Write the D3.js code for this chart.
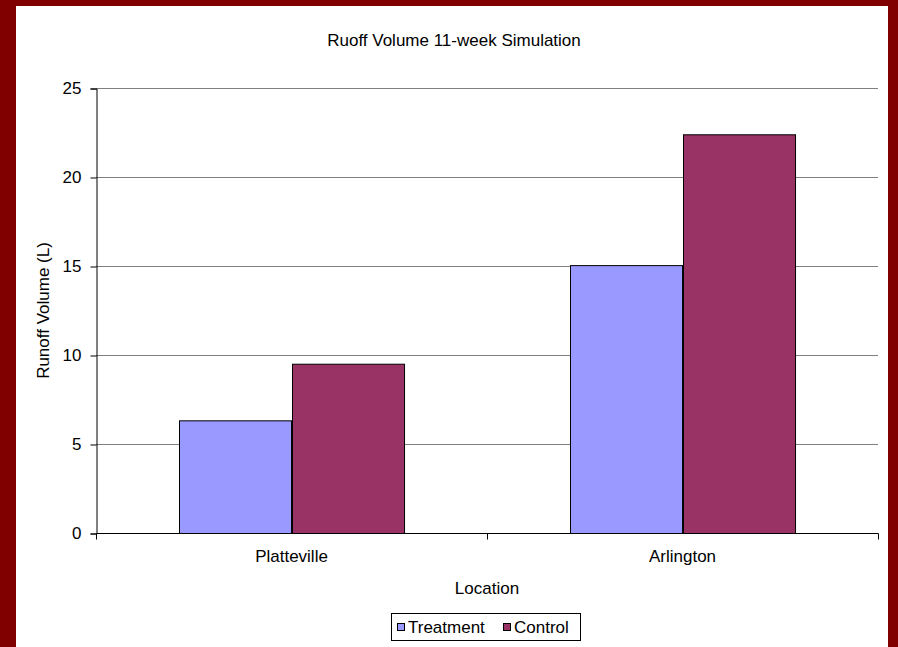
<!DOCTYPE html>
<html>
<head>
<meta charset="utf-8">
<script src="https://cdn.jsdelivr.net/npm/d3@7"></script>
<style>
  html, body { margin: 0; padding: 0; background: #800000; }
  svg { display: block; }
  text { font-family: "Liberation Sans", Arial, sans-serif; fill: #000; }
</style>
</head>
<body>
<svg id="chart" width="898" height="647"></svg>
<script>
// Runoff volume by location, treatment vs control
const locations = ["Platteville", "Arlington"];
const seriesNames = ["Treatment", "Control"];
const treatment = [6.33, 15.05];
const control = [9.51, 22.4];
const yTicks = [0, 5, 10, 15, 20, 25];
const colors = ["#9999FF", "#993366"];

const svg = d3.select("#chart");
const H = 647;
const FONT = 17;

// white chart area inside the maroon frame
svg.append("rect").attr("x", 16).attr("y", 6).attr("width", 872).attr("height", H - 6).attr("fill", "#fff");

const plot = { left: 96, right: 878, top: 88, bottom: 533 };

const x0 = d3.scaleBand().domain(locations).range([plot.left, plot.right]).paddingInner(0).paddingOuter(0);
const x1 = d3.scaleBand().domain(seriesNames).range([0, x0.bandwidth()]).paddingInner(0).paddingOuter(0.745);
const y = d3.scaleLinear().domain([0, 25]).range([plot.bottom, plot.top]);

// gridlines
svg.append("g").selectAll("line").data(yTicks.filter(d => d > 0)).join("line")
  .attr("x1", plot.left).attr("x2", plot.right)
  .attr("y1", d => y(d) + 0.5).attr("y2", d => y(d) + 0.5)
  .attr("stroke", "#808080").attr("stroke-width", 1);

// bars
const rows = locations.map((loc, i) => ({ loc, values: [treatment[i], control[i]] }));
const groups = svg.append("g").selectAll("g").data(rows).join("g")
  .attr("transform", d => `translate(${x0(d.loc)},0)`);
groups.selectAll("rect").data(d => d.values.map((v, j) => ({ name: seriesNames[j], v, j }))).join("rect")
  .attr("x", d => Math.round(x1(d.name)) + 0.5)
  .attr("y", d => y(d.v) + 0.5)
  .attr("width", x1.bandwidth())
  .attr("height", d => y(0) - y(d.v))
  .attr("fill", d => colors[d.j])
  .attr("stroke", "#000").attr("stroke-width", 1);

// y axis
const yAxis = d3.axisLeft(y).tickValues(yTicks).tickSize(6).tickPadding(9).tickFormat(d3.format("d"));
const gy = svg.append("g").attr("transform", `translate(${plot.left + 0.5},0.5)`).call(yAxis);
gy.select(".domain").attr("stroke", "#000");
gy.selectAll(".tick line").attr("stroke", "#000");
gy.selectAll("text").attr("font-size", FONT).attr("font-family", "Liberation Sans, Arial, sans-serif");

// x axis
const xAxis = d3.axisBottom(x0).tickSize(0).tickPadding(16);
const gx = svg.append("g").attr("transform", `translate(0,${plot.bottom + 0.5})`).call(xAxis);
gx.select(".domain").attr("d", `M${plot.left + 0.5},0H${plot.right + 0.5}`).attr("stroke", "#000");
gx.selectAll("text").attr("font-size", FONT).attr("font-family", "Liberation Sans, Arial, sans-serif");
// category separators
const sepX = [plot.left, plot.left + x0.bandwidth(), plot.right];
gx.selectAll(".sep").data(sepX).join("line").attr("class", "sep")
  .attr("x1", d => Math.round(d) + 0.5).attr("x2", d => Math.round(d) + 0.5)
  .attr("y1", 0).attr("y2", 6).attr("stroke", "#000");

// title and axis titles
svg.append("text").attr("x", 454).attr("y", 46).attr("text-anchor", "middle")
  .attr("font-size", FONT).text("Ruoff Volume 11-week Simulation");
svg.append("text").attr("x", (plot.left + plot.right) / 2).attr("y", 594).attr("text-anchor", "middle")
  .attr("font-size", FONT).text("Location");
svg.append("text").attr("transform", `translate(49,${(plot.top + plot.bottom) / 2}) rotate(-90)`)
  .attr("text-anchor", "middle").attr("font-size", FONT).text("Runoff Volume (L)");

// legend
const lg = svg.append("g");
lg.append("rect").attr("x", 391.5).attr("y", 613.5).attr("width", 189).attr("height", 27)
  .attr("fill", "#fff").attr("stroke", "#000");
const lx = [397, 503];
seriesNames.forEach((n, i) => {
  lg.append("rect").attr("x", lx[i] + 0.5).attr("y", 623.5).attr("width", 7).attr("height", 7)
    .attr("fill", colors[i]).attr("stroke", "#000");
  lg.append("text").attr("x", lx[i] + 11).attr("y", 633).attr("font-size", FONT).text(n);
});
</script>
</body>
</html>
